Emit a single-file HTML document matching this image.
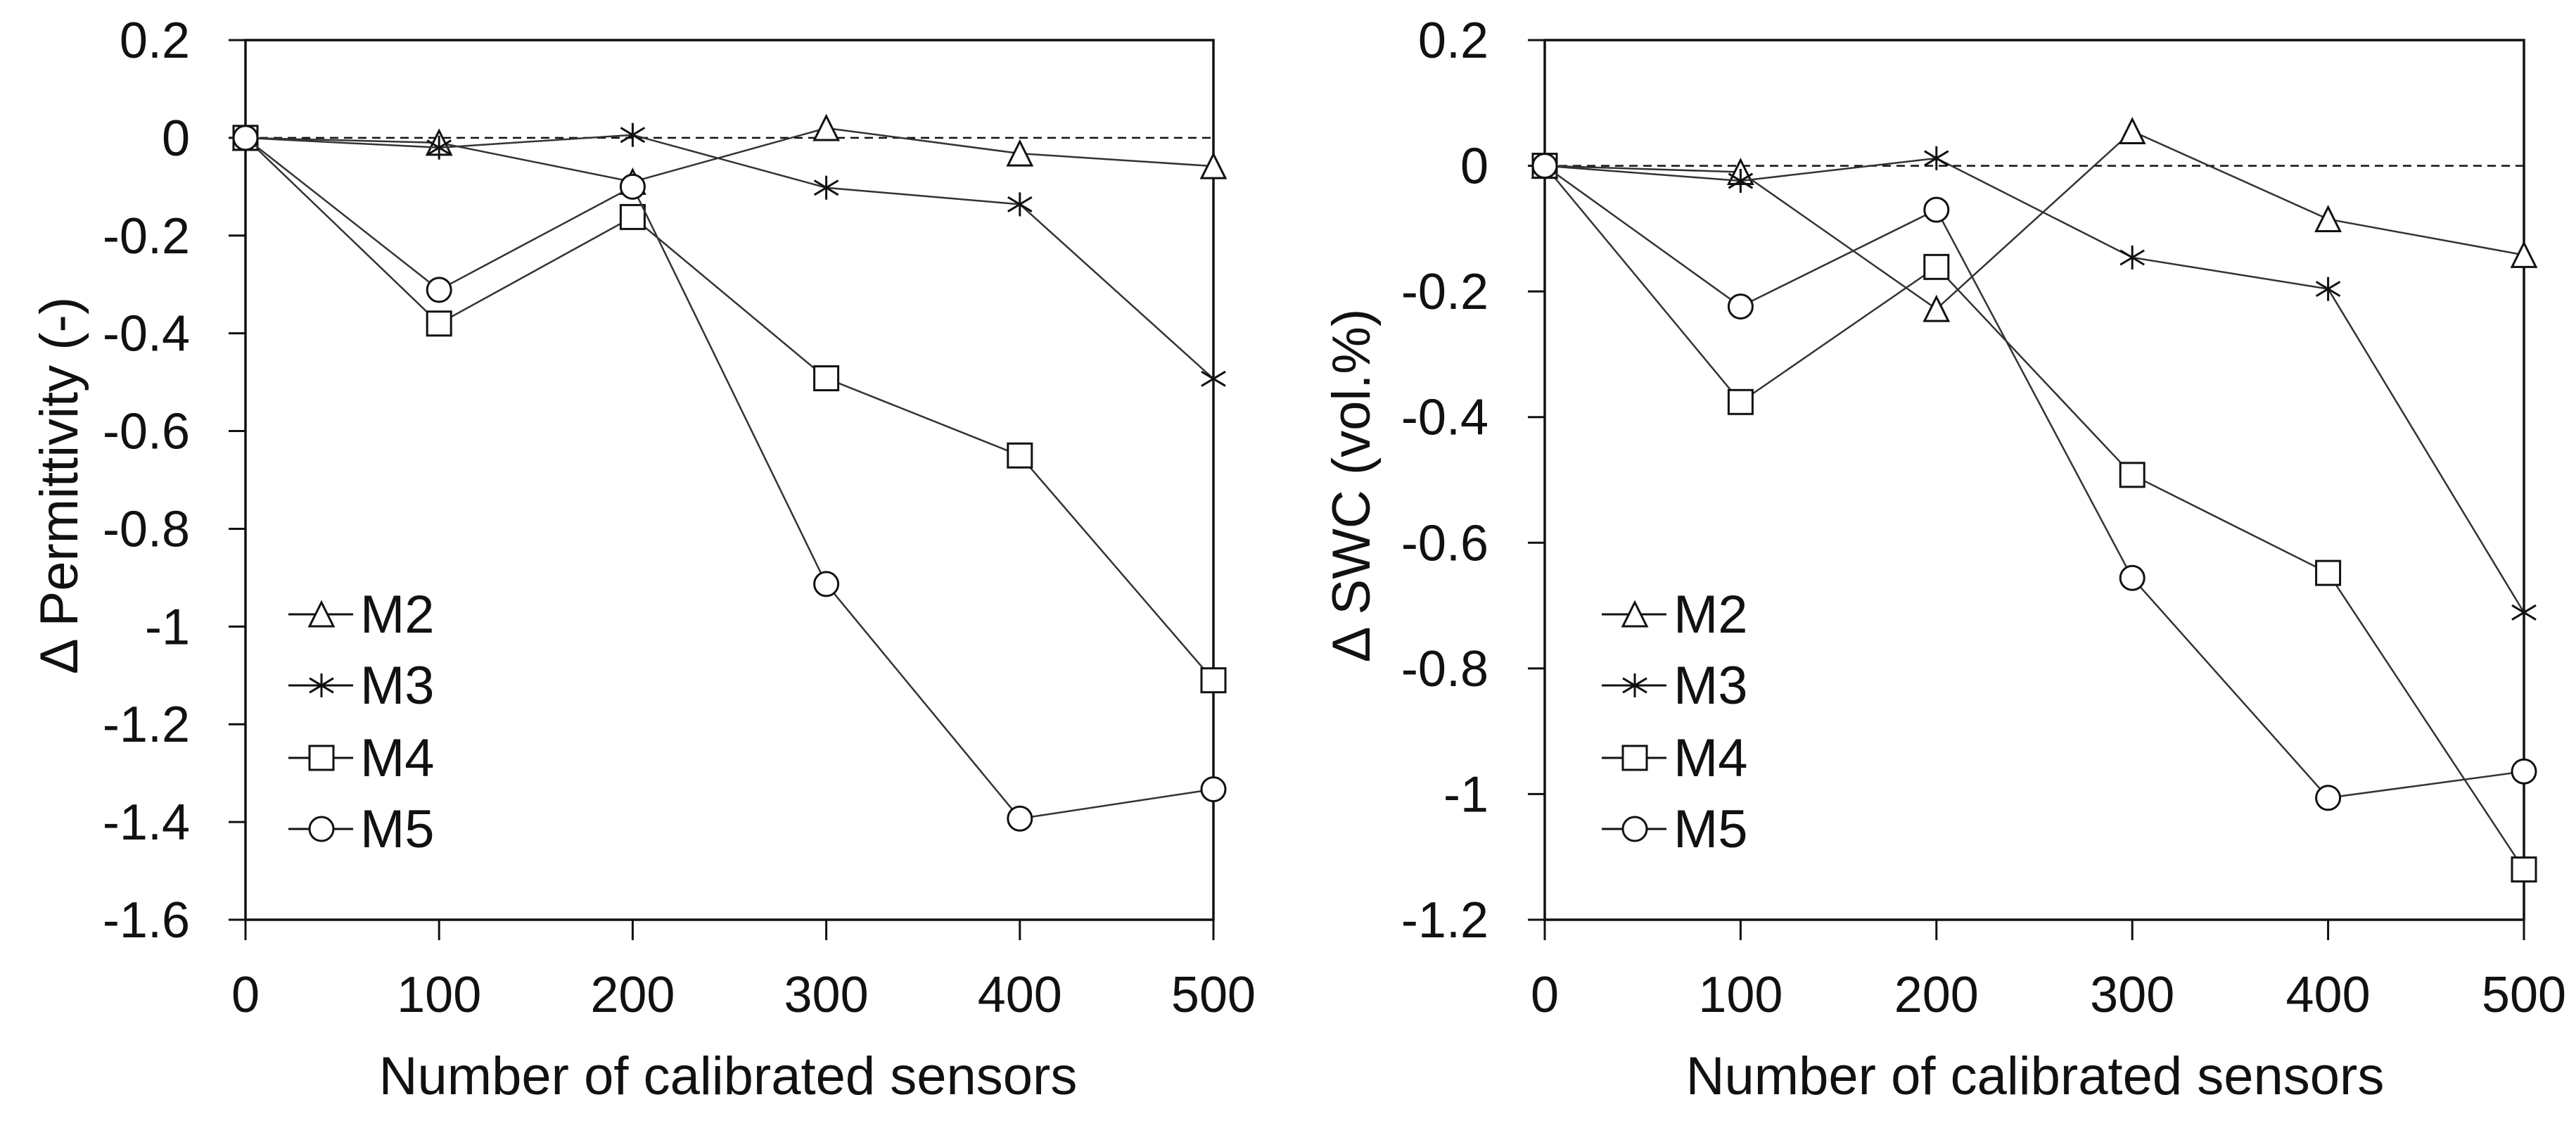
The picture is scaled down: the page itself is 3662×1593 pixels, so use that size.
<!DOCTYPE html>
<html><head><meta charset="utf-8"><style>
html,body{margin:0;padding:0;background:#fff;}
svg{display:block;font-family:"Liberation Sans",sans-serif;}
</style></head><body>
<svg id="fig" width="3662" height="1593" viewBox="0 0 3662 1593"></svg>
<script>
const xCats=[0,100,200,300,400,500];
const seriesNames=["M2","M3","M4","M5"];
const markers=["triangle","star","square","circle"];
const leftM2=[0,-0.01,-0.09,0.02,-0.032,-0.058];
const leftM3=[0,-0.02,0.006,-0.102,-0.136,-0.493];
const leftM4=[0,-0.38,-0.162,-0.492,-0.65,-1.11];
const leftM5=[0,-0.311,-0.1,-0.913,-1.393,-1.333];
const rightM2=[0,-0.01,-0.228,0.055,-0.085,-0.142];
const rightM3=[0,-0.024,0.012,-0.146,-0.196,-0.711];
const rightM4=[0,-0.376,-0.161,-0.492,-0.648,-1.12];
const rightM5=[0,-0.224,-0.07,-0.656,-1.006,-0.964];
const leftYTicks=[0.2,0,-0.2,-0.4,-0.6,-0.8,-1,-1.2,-1.4,-1.6];
const rightYTicks=[0.2,0,-0.2,-0.4,-0.6,-0.8,-1,-1.2];

const NS="http://www.w3.org/2000/svg";
const svg=document.getElementById('fig');
function mk(tag,attrs,parent){const e=document.createElementNS(NS,tag);for(const k in attrs)e.setAttribute(k,attrs[k]);(parent||svg).appendChild(e);return e;}

function marker(g,type,cx,cy){
  const s=17;let e;
  if(type==="square"){e=mk('rect',{x:cx-s,y:cy-s,width:2*s,height:2*s,fill:'#fff',stroke:'#111','stroke-width':3},g);}
  else if(type==="circle"){e=mk('circle',{cx:cx,cy:cy,r:s,fill:'#fff',stroke:'#111','stroke-width':3},g);}
  else if(type==="triangle"){e=mk('polygon',{points:`${cx},${cy-s} ${cx+s},${cy+s} ${cx-s},${cy+s}`,fill:'#fff',stroke:'#111','stroke-width':3},g);}
  else {e=mk('path',{d:`M${cx},${cy-s}V${cy+s}M${cx-s},${cy-s*0.6}L${cx+s},${cy+s*0.6}M${cx-s},${cy+s*0.6}L${cx+s},${cy-s*0.6}`,stroke:'#111','stroke-width':3,fill:'none'},g);}
  return e;
}

function chart(cfg){
  const g=mk('g',{});
  
  
  const x0=cfg.x0,x1=cfg.x1,y0=cfg.y0,y1=cfg.y1;
  const ymax=cfg.ticks[0],ymin=cfg.ticks[cfg.ticks.length-1];
  const X=v=>x0+(v-xCats[0])/(xCats[xCats.length-1]-xCats[0])*(x1-x0);
  const Y=v=>y0+(ymax-v)/(ymax-ymin)*(y1-y0);
  // zero line
  const zl=mk('line',{x1:x0,x2:x1,y1:Y(0),y2:Y(0),stroke:'#111','stroke-width':2.5,'stroke-dasharray':'12,8'},g);
  
  
  // frame
  const fr=mk('rect',{x:x0,y:y0,width:x1-x0,height:y1-y0,fill:'none',stroke:'#111','stroke-width':3.5},g);
  
  
  // y ticks
  cfg.ticks.forEach(t=>{
    const y=Y(t);
    mk('line',{x1:x0-24,x2:x0,y1:y,y2:y,stroke:'#111','stroke-width':3},g);
    const tx=mk('text',{x:cfg.labelRight,y:y+25,'text-anchor':'end','font-size':72,fill:'#111'},g);
    tx.textContent=String(t);
    
    
  });
  // x ticks
  xCats.forEach(c=>{
    const x=X(c);
    mk('line',{x1:x,x2:x,y1:y1,y2:y1+29,stroke:'#111','stroke-width':3},g);
    const tx=mk('text',{x:x,y:1438,'text-anchor':'middle','font-size':72,fill:'#111'},g);
    tx.textContent=String(c);
    
    
  });
  // series
  cfg.series.forEach((vals,i)=>{
    const sg=mk('g',{},g);
    
    
    const pts=vals.map((v,j)=>X(xCats[j])+','+Y(v)).join(' ');
    mk('polyline',{points:pts,fill:'none',stroke:'#333','stroke-width':2.5},sg);
    vals.forEach((v,j)=>{
      const m=marker(sg,markers[i],X(xCats[j]),Y(v));
      
      
    });
  });
  // legend
  const lg=mk('g',{},g);
  
  
  const rows=[873,974,1077,1178];
  seriesNames.forEach((n,i)=>{
    const eg=mk('g',{},lg);
    
    
    const lx=cfg.legX;
    mk('line',{x1:lx,x2:lx+92,y1:rows[i],y2:rows[i],stroke:'#111','stroke-width':3},eg);
    marker(eg,markers[i],lx+47,rows[i]);
    const t=mk('text',{x:lx+102,y:rows[i]+26,'font-size':76,fill:'#111'},eg);
    t.textContent=n;
  });
  // axis titles
  const xt=mk('text',{x:cfg.xTitleX,y:1555,'text-anchor':'middle','font-size':76,fill:'#111'},g);
  xt.textContent='Number of calibrated sensors';
  
  
  const yt=mk('text',{x:0,y:0,'text-anchor':'middle','font-size':76,fill:'#111',transform:`translate(${cfg.yTitleX},690) rotate(-90)`},g);
  yt.textContent=cfg.yTitle;
  
  
}

chart({name:'permittivity-chart',x0:349,x1:1725,y0:57,y1:1307,ticks:leftYTicks,labelRight:270,
  series:[leftM2,leftM3,leftM4,leftM5],legX:410,xTitleX:1035,yTitleX:110,yTitle:'\u0394 Permittivity (-)'});
chart({name:'swc-chart',x0:2196,x1:3588,y0:57,y1:1307,ticks:rightYTicks,labelRight:2116,
  series:[rightM2,rightM3,rightM4,rightM5],legX:2277,xTitleX:2893,yTitleX:1947,yTitle:'\u0394 SWC (vol.%)'});
</script>
</body></html>
